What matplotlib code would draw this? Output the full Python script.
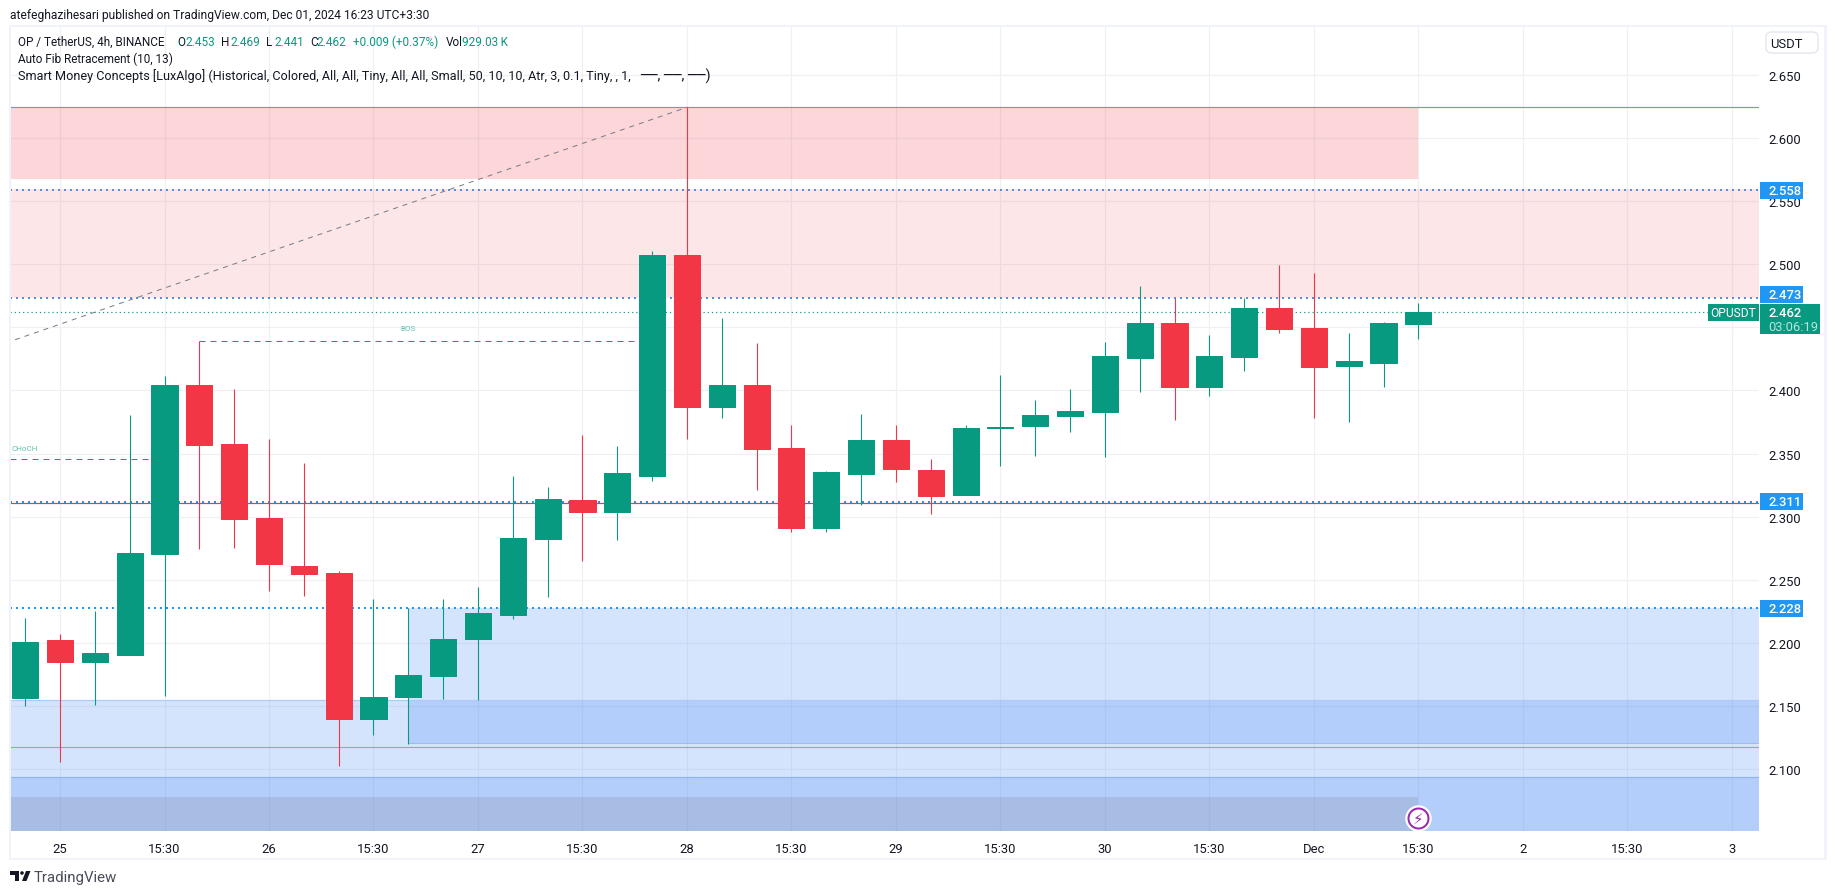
import matplotlib
matplotlib.use('Agg')
import matplotlib.pyplot as plt
from matplotlib.patches import Rectangle, FancyBboxPatch, Polygon, Ellipse

W, H = 1835, 895

# candles, bar 0 is the first one on the left
opens = [2.1562, 2.2022, 2.1847, 2.1903, 2.2703, 2.4043, 2.3576, 2.2990, 2.2608, 2.2552,
         2.1396, 2.1570, 2.1736, 2.2030, 2.2222, 2.2824, 2.3132, 2.3037, 2.3323, 2.5073,
         2.3869, 2.4043, 2.3544, 2.2911, 2.3338, 2.3608, 2.3370, 2.3172, 2.3705, 2.3719,
         2.3798, 2.3829, 2.4257, 2.4534, 2.4027, 2.4265, 2.4653, 2.4495, 2.4194, 2.4218, 2.453]
highs = [2.2196, 2.2069, 2.2251, 2.3806, 2.4115, 2.4389, 2.4012, 2.3616, 2.3426, 2.2568,
         2.2346, 2.2280, 2.2346, 2.2441, 2.3322, 2.3235, 2.3647, 2.3560, 2.5105, 2.6242,
         2.4574, 2.4376, 2.3726, 2.3362, 2.3814, 2.3726, 2.3457, 2.3726, 2.4122, 2.3925,
         2.4012, 2.4384, 2.4827, 2.4730, 2.4439, 2.4730, 2.4994, 2.4930, 2.4455, 2.4542, 2.469]
lows = [2.1501, 2.1058, 2.1507, 2.1903, 2.1581, 2.2747, 2.2752, 2.2410, 2.2370, 2.1026,
        2.1269, 2.1198, 2.1554, 2.1546, 2.2190, 2.2364, 2.2649, 2.2816, 2.3283, 2.3616,
        2.3782, 2.3212, 2.2879, 2.2879, 2.3093, 2.3275, 2.3022, 2.3172, 2.3402, 2.3481,
        2.3671, 2.3473, 2.3988, 2.3766, 2.3956, 2.4154, 2.4455, 2.3782, 2.3750, 2.4027, 2.441]
closes = [2.2006, 2.1847, 2.1919, 2.2711, 2.4043, 2.3568, 2.2982, 2.2626, 2.2544, 2.1396,
          2.1570, 2.1744, 2.2030, 2.2235, 2.2832, 2.3140, 2.3037, 2.3346, 2.5073, 2.3869,
          2.4043, 2.3536, 2.2911, 2.3354, 2.3608, 2.3378, 2.3164, 2.3703, 2.3708, 2.3806,
          2.3837, 2.4273, 2.4534, 2.4027, 2.4273, 2.4653, 2.4487, 2.4186, 2.4233, 2.4534, 2.462]

time_ticks = [1, 4, 7, 10, 13, 16, 19, 22, 25, 28, 31, 34, 37, 40, 43, 46, 49]
time_labels = ['25', '15:30', '26', '15:30', '27', '15:30', '28', '15:30', '29', '15:30',
               '30', '15:30', 'Dec', '15:30', '2', '15:30', '3']
price_ticks = [2.10, 2.15, 2.20, 2.25, 2.30, 2.35, 2.40, 2.45, 2.50, 2.55, 2.60, 2.65]
# 2.450 sits under the last price badge in the picture
price_labels = ['2.100', '2.150', '2.200', '2.250', '2.300', '2.350', '2.400', '', '2.500', '2.550', '2.600', '2.650']

level_prices = [2.5589, 2.4732, 2.3120, 2.2280]
level_labels = ['2.558', '2.473', '2.311', '2.228']
level_colors = ['#5b8dd9', '#5b8dd9', '#2196f3', '#2196f3']

GREEN = '#089981'
RED = '#f23645'
INK = '#131722'
BORDER = '#f0f3fa'

plt.rcParams['font.family'] = ['Roboto', 'DejaVu Sans']
PT = 0.72  # one pixel in points at dpi 100


def fx(x):
    return x / W


def fy(y):
    return 1 - y / H


def ftext(x, y, s, size=13, color=INK, ha='left', **kw):
    return fig.text(fx(x), fy(y), s, fontsize=size * PT, color=color, ha=ha, va='center', zorder=10, **kw)


def frect(x0, y0, x1, y1, color, zorder=6):
    fig.patches.append(Rectangle((fx(x0), fy(y1)), fx(x1 - x0), (y1 - y0) / H, transform=fig.transFigure,
                                 facecolor=color, edgecolor='none', zorder=zorder))


fig = plt.figure(figsize=(W / 100, H / 100), dpi=100, facecolor='white')
ax = fig.add_axes([fx(10), fy(832), fx(1759 - 10), (832 - 27) / H])
ax.set_xlim(-0.436, 49.78)
ax.set_ylim(2.0512, 2.6886)
for side in ax.spines:
    ax.spines[side].set_visible(False)

ax.set_axisbelow(True)
ax.grid(True, color='#eff0f3', lw=PT * 1.2)
ax.set_xticks(time_ticks)
ax.set_xticklabels(time_labels)
ax.set_yticks(price_ticks)
ax.set_yticklabels(price_labels)
ax.yaxis.tick_right()
ax.tick_params(axis='x', length=0, pad=8, labelsize=13 * PT, labelcolor=INK)
ax.tick_params(axis='y', length=0, pad=9 * PT, labelsize=13 * PT, labelcolor=INK)

# supply zones
ax.axhspan(2.5677, 2.6242, xmax=(40 + 0.436) / 50.216, color=RED, alpha=0.2, lw=0, zorder=1)
ax.axhspan(2.4732, 2.5595, color=RED, alpha=0.12, lw=0, zorder=1)
ax.axhline(2.6242, color='#8096c4', lw=PT * 1.2, zorder=2)

# demand zones
BLUE = '#3179f5'
ax.axhspan(2.0512, 2.1547, color=BLUE, alpha=0.2, lw=0, zorder=1)
ax.axhspan(2.0512, 2.0937, color=BLUE, alpha=0.2, lw=0, zorder=1)
ax.add_patch(Rectangle((11, 2.1206), 60, 2.228 - 2.1206, facecolor=BLUE, alpha=0.2, lw=0, zorder=1))
ax.axhspan(2.0512, 2.0779, xmax=(40 + 0.436) / 50.216, color='#787b86', alpha=0.2, lw=0, zorder=1)
ax.axhline(2.1547, color='#b0c9f7', lw=PT * 1.2, zorder=2)
ax.axhline(2.0937, color='#8fb3f7', lw=PT * 1.2, zorder=2)
ax.plot([11, 60], [2.1206, 2.1206], color='#9dbcf5', lw=PT, zorder=2)
ax.plot([11, 11], [2.1206, 2.228], color='#c5d8fb', lw=PT, zorder=2)
ax.axhline(2.1175, color='#74c274', lw=PT * 1.1, zorder=2)

# levels
for p, c in zip(level_prices, level_colors):
    ax.axhline(p, color=c, lw=PT * 2, ls=(0, (1, 2)), zorder=2.3)
ax.axhline(2.3112, color=RED, lw=PT * 1.2, zorder=2.35)
ax.axhline(closes[-1], color=GREEN, lw=PT * 1.2, ls=(0, (1, 2.5)), zorder=2.3)

# fib diagonal and structure breaks
ax.plot([-0.29, 19], [2.4402, 2.6242], color='#787b86', lw=PT, ls=(0, (5, 5)), zorder=2.4)
ax.plot([5, 18], [2.4389, 2.4389], color=GREEN, lw=PT, ls=(0, (6, 5)), zorder=2.4)
ax.plot([-0.44, 4], [2.3455, 2.3455], color=GREEN, lw=PT, ls=(0, (6, 5)), zorder=2.4)
ax.text(0, 2.3548, 'CHoCH', color='#5fc4ad', fontsize=8 * PT, ha='center', va='center', zorder=2.5)
ax.text(11, 2.4493, 'BOS', color='#5fc4ad', fontsize=8 * PT, ha='center', va='center', zorder=2.5)

# candles
bars = list(range(len(opens)))
colors = [GREEN if c >= o else RED for o, c in zip(opens, closes)]
wicks = ax.vlines(bars, lows, highs, colors=colors, lw=PT * 1.1, zorder=3)
wicks.set_snap(True)
ax.bar(bars, [c - o for o, c in zip(opens, closes)], bottom=opens, width=0.75, color=colors,
       edgecolor=colors, lw=PT, zorder=3.1)

# lightning marker on the last bar
ax.plot([40], [2.0615], marker='o', ms=25 * PT, mfc='white', mec='white', zorder=4, clip_on=False)
ax.plot([40], [2.0615], marker='o', ms=20 * PT, mfc='white', mec='#9c27b0', mew=2 * PT, zorder=4.1, clip_on=False)
ax.text(40, 2.0615, '\u26a1', color='#9c27b0', fontsize=15 * PT, ha='center', va='center', family='DejaVu Sans', zorder=4.2)

# frame round chart and price scale
frect(9, 26, 1827, 27.5, BORDER)
frect(9, 859, 1827, 860.5, BORDER)
frect(9, 26, 10.5, 860.5, BORDER)
frect(1824, 26, 1827, 860.5, BORDER)

# price badges, nudged where they would run into each other
nudges = [1, -3.4, 0, 0.5]
for p, s, n in zip(level_prices, level_labels, nudges):
    yp = H - ax.transData.transform((0, p))[1] + n
    frect(1760, yp - 8.4, 1802.7, yp + 8.4, '#2196f3')
    ftext(1768, yp, s, color='white', fontweight='medium')
yc = H - ax.transData.transform((0, closes[-1]))[1]
frect(1760, yc - 8.5, 1819.7, yc + 22.2, GREEN)
frect(1708, yc - 8.5, 1759, yc + 8.5, GREEN)
ftext(1768, yc, '%.3f' % closes[-1], color='white', fontweight='medium')
ftext(1768, yc + 14, '03:06:19', color='#b9e3da')
ftext(1733.5, yc, 'OPUSDT', size=12, color='white', ha='center')

# currency button
fig.patches.append(FancyBboxPatch((fx(1766), fy(54)), fx(52), 21 / H, transform=fig.transFigure,
                                  boxstyle='round,pad=0,rounding_size=0.003', mutation_aspect=2,
                                  facecolor='white', edgecolor='#e6e8f0', lw=1.5 * PT, zorder=6))
ftext(1786, 45, 'USDT', ha='center')

# header and legend
ftext(10, 15, 'atefeghazihesari published on TradingView.com, Dec 01, 2024 16:23 UTC+3:30', size=12)
legend_row = [(18, 'OP / TetherUS, 4h, BINANCE', INK), (177, 'O', INK), (185, '2.453', GREEN),
              (221, 'H', INK), (230, '2.469', GREEN), (266, 'L', INK), (274, '2.441', GREEN),
              (310, 'C', INK), (316, '2.462', GREEN), (353, '+0.009 (+0.37%)', GREEN),
              (446, 'Vol', INK), (462, '929.03\u2009K', GREEN)]
for x, s, c in legend_row:
    ftext(x, 42, s, size=11.8, color=c)
ftext(18, 59, 'Auto Fib Retracement (10, 13)', size=11.8)
ftext(18, 76, 'Smart Money Concepts [LuxAlgo] (Historical, Colored, All, All, Tiny, All, All, Small, 50, 10, 10, '
              'Atr, 3, 0.1, Tiny, , 1,', size=12.65)
ftext(640, 76, '\u2500\u2500, \u2500\u2500, \u2500\u2500)', size=14.5)

# TradingView mark
logo_t = [(10, 872), (19, 872), (19, 882), (15, 882), (15, 875.5), (10, 875.5)]
logo_v = [(26, 872), (30.5, 872), (26.5, 882), (22, 882)]
for pts in (logo_t, logo_v):
    fig.patches.append(Polygon([(fx(a), fy(b)) for a, b in pts], closed=True, transform=fig.transFigure,
                               facecolor=INK, edgecolor='none', zorder=6))
fig.patches.append(Ellipse((fx(22), fy(874)), 3.6 / W, 3.6 / H, transform=fig.transFigure,
                           facecolor=INK, edgecolor='none', zorder=6))
ftext(34, 878, 'TradingView', size=15, color='#4a4e59')

fig.savefig('out.png', dpi=100, facecolor='white')
